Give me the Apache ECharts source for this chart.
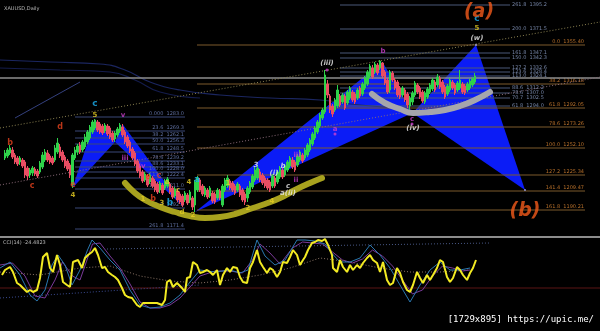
<!DOCTYPE html>
<html><head><meta charset="utf-8">
<script src="https://cdn.jsdelivr.net/npm/echarts@6/dist/echarts.min.js"></script>
<style>html,body{margin:0;padding:0;background:#000;}#c{width:600px;height:331px;}</style>
</head><body><div id="c"></div>
<script>
// ---- price candles [open, close, low, high] (one per bar, index = bar number)
const candles = [
[1242,1247,1240,1250],[1244,1250,1242,1252],[1247,1252,1245,1255],[1250,1243,1241,1253],[1245,1238,1236,1247],[1242,1236,1234,1244],
[1238,1242,1235,1244],[1240,1234,1232,1242],[1238,1225,1222,1240],[1232,1224,1220,1234],[1225,1230,1222,1232],[1227,1232,1224,1234],
[1231,1226,1224,1233],[1229,1224,1222,1231],[1228,1237,1226,1239],[1233,1245,1231,1248],[1240,1248,1238,1251],[1247,1240,1238,1250],
[1244,1238,1236,1246],[1242,1237,1235,1244],[1240,1252,1238,1255],[1248,1257,1246,1262],[1253,1244,1242,1256],[1248,1240,1238,1250],
[1243,1234,1232,1245],[1239,1231,1229,1241],[1235,1225,1222,1237],[1215,1245,1212,1247],[1242,1250,1240,1253],[1248,1254,1245,1256],
[1255,1248,1246,1258],[1250,1258,1248,1260],[1253,1263,1251,1266],[1258,1268,1256,1270],[1262,1273,1260,1275],[1268,1278,1266,1280],
[1272,1280,1270,1281],[1278,1270,1268,1280],[1276,1268,1266,1278],[1274,1267,1265,1276],[1269,1275,1267,1277],[1274,1266,1264,1276],
[1272,1263,1261,1274],[1267,1260,1258,1269],[1261,1267,1258,1269],[1265,1271,1263,1273],[1269,1275,1267,1277],[1273,1265,1263,1276],
[1268,1258,1256,1270],[1263,1254,1252,1265],[1258,1249,1247,1260],[1251,1242,1240,1253],[1247,1236,1234,1249],[1239,1229,1227,1241],
[1234,1224,1222,1236],[1228,1219,1217,1230],[1220,1226,1218,1228],[1224,1215,1213,1226],[1218,1225,1216,1227],[1222,1214,1212,1224],
[1219,1210,1208,1221],[1216,1208,1206,1218],[1210,1217,1207,1219],[1215,1207,1205,1217],[1212,1219,1210,1221],[1214,1221,1212,1223],
[1216,1208,1206,1218],[1212,1203,1201,1214],[1204,1211,1202,1213],[1209,1200,1198,1211],[1206,1198,1196,1208],[1204,1195,1193,1206],
[1200,1207,1198,1209],[1205,1197,1195,1207],[1200,1208,1197,1210],[1202,1193,1190,1204],[1195,1218,1188,1220],[1210,1222,1208,1224],
[1220,1210,1208,1222],[1214,1206,1204,1216],[1205,1212,1203,1214],[1210,1203,1201,1212],[1204,1212,1202,1214],[1207,1199,1197,1209],
[1206,1198,1196,1208],[1202,1210,1200,1212],[1209,1202,1200,1211],[1195,1214,1193,1216],[1210,1220,1208,1222],[1214,1222,1212,1225],
[1219,1212,1210,1221],[1217,1210,1208,1219],[1214,1207,1205,1216],[1210,1216,1208,1218],[1214,1205,1203,1216],[1210,1200,1198,1212],
[1206,1198,1195,1208],[1202,1212,1198,1214],[1208,1217,1206,1219],[1213,1224,1211,1226],[1220,1230,1218,1233],[1222,1232,1220,1235],
[1228,1220,1218,1231],[1225,1217,1215,1227],[1222,1214,1212,1224],[1220,1212,1210,1222],[1218,1210,1208,1220],[1214,1224,1212,1226],
[1222,1214,1212,1224],[1218,1228,1216,1230],[1223,1232,1221,1234],[1230,1223,1221,1232],[1225,1234,1223,1236],[1230,1238,1228,1240],
[1234,1242,1232,1244],[1240,1233,1231,1243],[1238,1230,1228,1240],[1235,1244,1233,1246],[1240,1248,1238,1250],[1245,1239,1237,1247],
[1242,1250,1240,1252],[1245,1255,1243,1257],[1250,1260,1248,1262],[1256,1266,1254,1268],[1262,1272,1260,1274],[1268,1278,1266,1280],
[1274,1285,1272,1287],[1282,1290,1280,1292],[1288,1325,1286,1330],[1316,1305,1302,1320],[1304,1290,1287,1306],[1294,1286,1283,1296],
[1290,1300,1288,1302],[1294,1310,1292,1315],[1304,1295,1293,1306],[1298,1305,1296,1307],[1304,1292,1290,1306],[1297,1308,1295,1310],
[1302,1312,1300,1314],[1308,1300,1298,1310],[1306,1298,1296,1308],[1302,1310,1300,1312],[1312,1304,1302,1314],[1306,1316,1304,1318],
[1312,1322,1310,1324],[1316,1328,1314,1330],[1324,1334,1322,1336],[1332,1323,1321,1335],[1328,1336,1326,1338],[1335,1327,1325,1337],
[1332,1339,1330,1340],[1337,1324,1322,1338],[1328,1317,1315,1330],[1320,1308,1306,1322],[1310,1328,1307,1330],[1327,1320,1318,1329],
[1320,1312,1310,1322],[1318,1305,1303,1320],[1312,1303,1301,1314],[1305,1312,1303,1314],[1310,1300,1298,1312],[1306,1295,1292,1308],
[1294,1302,1288,1304],[1298,1307,1295,1309],[1305,1317,1303,1319],[1315,1308,1306,1317],[1312,1303,1301,1314],[1308,1299,1297,1310],
[1298,1307,1296,1309],[1303,1311,1301,1313],[1308,1315,1306,1317],[1311,1320,1309,1322],[1318,1310,1308,1320],[1315,1323,1313,1326],
[1322,1313,1311,1324],[1318,1308,1306,1320],[1313,1303,1301,1315],[1306,1314,1304,1316],[1310,1320,1308,1322],[1318,1312,1310,1320],
[1315,1307,1305,1317],[1310,1317,1308,1319],[1312,1320,1310,1330],[1316,1308,1306,1318],[1314,1307,1305,1316],[1310,1316,1308,1318],
[1312,1319,1310,1321],[1315,1321,1313,1323],[1318,1324,1316,1327]
];

// ---- harmonic patterns X, A, B, C, D  as [bar, price]
const patternLeft  = [[27,1212],[36,1280],[44,1258],[47,1276],[71,1194]];
const patternRight = [[76,1188],[151,1338],[163,1287],[188.4,1355],[208,1210]];

// ---- hand drawn arcs [bar, price]
const oliveArc = [[48,1217],[52,1207],[56,1200],[62,1193],[68,1188],[74,1184],[80,1182],[86,1183],[92,1186],[98,1191],[104,1196],[110,1202],[116,1210],[122,1217],[126.8,1222]];
const grayArc  = [[146.8,1306],[152,1297],[158,1291],[163.2,1287],[170,1288],[176,1290],[182,1294],[188,1300],[194,1308]];

// ---- moving averages / trend lines [bar, price]
const maSlow = [[-2,1340],[18,1338],[38,1336],[48,1330],[58,1318],[70,1310],[86,1305],[106,1302],[126,1300],[142,1295],[158,1292]];
const maFast = [[-2,1332],[22,1330],[42,1328],[52,1320],[62,1308],[78,1302]];
const channelLine = [[4,1282],[30,1318]];
const trendDotted1 = [[-2,1272],[238,1378]];
const trendDotted2 = [[-2,1215],[238,1323]];
const grayLevel = 1322;

// ---- fibonacci levels
const fibOrangeLevels = [1355,1316,1292,1273,1252,1225,1209,1190];
const fibOrangeText = ['0.0  1355.40','38.2  1316.18','61.8  1292.05','78.6  1273.26','100.0  1252.10','127.2  1225.34','141.4  1209.47','161.8  1190.21'];
const fibOrangeRange = [76.8, 232];
const fibBlueLevels = [1395,1371,1347,1342,1332,1328,1324,1312,1307,1302,1294];
const fibBlueText = ['261.8  1395.2','200.0  1371.5','161.8  1347.1','150.0  1342.3','127.2  1332.6','123.6  1328.4','113.0  1324.1','88.6  1312.2','78.6  1307.0','70.7  1302.5','61.8  1294.0'];
const fibBlueRange = [134, 202];
const fibLeftLevels = [1283,1269,1262,1256,1248,1239,1233,1228,1222,1211,1192,1171];
const fibLeftText = ['0.000  1283.0','23.6  1269.3','38.2  1262.1','50.0  1256.3','61.8  1248.5','78.6  1239.2','88.6  1233.1','100.0  1228.0','113.0  1222.4','127.2  1211.0','161.8  1192.2','261.8  1171.4'];
const fibLeftRange = [28, 72];

// ---- wave labels [bar, price, text]
const redLabels = [[2,1257,'b'],[10.8,1214,'c'],[22,1273,'d'],[27.2,1215,'e'],[57.2,1223,'e'],[59.2,1201,'b'],[61.6,1224,'c']];
const yellowLabels = [[27.2,1205,'4'],[36,1285,'5'],[55.2,1201,'1'],[62.8,1197,'3'],[64.8,1218,'a'],[69.2,1210,'c'],[73.6,1218,'4'],[70.8,1188,'d'],[75.2,1185,'2'],[89.2,1217,'1'],[97.2,1192,'2'],[106.8,1199,'4'],[188.8,1372,'5']];
const cyanLabels = [[36,1296,'c'],[76.8,1220,'a'],[66,1197,'b'],[188.8,1381,'c']];
const pinkLabels = [[47.2,1285,'v'],[48,1242,'iii'],[54.8,1234,'iv'],[116.8,1245,'iii'],[116.4,1220,'ii'],[132,1271,'a'],[151.2,1349,'b'],[162.8,1281,'c']];
const whiteLabels = [[100.4,1235,'3'],[107.6,1227,'(i)'],[111.2,1234,'b'],[113.2,1214,'c'],[113.2,1207,'a(ii)'],[128.8,1337,'(iii)'],[163.2,1272,'(iv)'],[188.8,1362,'(w)']];
const bigLabels = [[189.6,1388,'(a)'],[208,1189,'(b)']];

// ---- oscillator (CCI) [bar, value]
const cciMain = [[-1.2,-35],[0,-10],[2,5],[3.2,-20],[4.8,-75],[6,-85],[7.2,-100],[8.8,-120],[10,-110],[11.2,-120],[12.8,-110],[14,-50],[15.2,55],[16.8,75],[18,0],[19.2,-20],[20.8,65],[22,15],[23.2,-70],[24.8,-85],[26,-95],[27.2,30],[29.2,40],[30.8,0],[32,50],[33.2,65],[34.8,80],[36,100],[37.2,65],[38.8,0],[40,5],[41.2,-20],[42.8,-35],[44,-45],[45.2,-60],[46.8,-100],[48,-135],[49.2,-145],[50.8,-150],[52.8,-185],[54,-195],[55.2,-175],[56.8,-175],[58.8,-175],[60.8,-175],[62.8,-185],[64,-160],[64.8,-70],[66,-60],[67.2,-95],[68.8,-75],[70.8,-100],[72,-120],[72.8,-50],[74,-45],[75.2,30],[76.8,15],[78,-25],[79.2,-20],[80.8,-10],[82,-20],[83.2,-35],[84.8,-10],[86,-85],[87.2,-35],[88.8,0],[90,-20],[91.2,5],[92.8,0],[94,-45],[95.2,-70],[96.8,-75],[98,0],[99.2,30],[100.8,90],[102,30],[103.2,5],[104.8,-25],[106,0],[107.2,-10],[108.8,-45],[110,-20],[111.2,30],[112.8,25],[114,55],[115.2,90],[116.8,65],[118,15],[119.2,40],[120,55],[121.2,90],[122.8,125],[124,130],[125.2,140],[126.8,135],[128,145],[129.2,115],[130.8,65],[131.2,0],[132.8,-20],[134,40],[135.2,5],[136.8,-20],[138,15],[139.2,-10],[140.8,15],[142,0],[143.2,25],[144.8,50],[146,65],[147.2,40],[148.8,25],[150,-20],[151.2,30],[152.8,-60],[154,-85],[155.2,-75],[156.8,0],[158,-25],[159.2,-70],[160.8,-110],[162,-120],[163.2,-85],[164.8,-20],[166,-50],[167.2,-75],[168.8,-35],[170,-60],[171.2,-35],[172.8,0],[174,40],[175.2,30],[176.8,-45],[178,-70],[179.2,-50],[180.8,5],[182,-10],[183.2,-35],[184.8,-60],[186,-25],[187.2,0],[188.4,40]];
const cciBlue = [[-2,0],[2,30],[6,-35],[10,-135],[12.8,-165],[16,-110],[18.8,15],[21.2,65],[24,15],[26.8,-85],[30,-10],[33,90],[34.8,140],[38,100],[42,40],[46,-10],[50,-110],[54,-185],[58,-200],[62,-195],[66,-175],[70,-135],[74,-70],[78,-10],[84,-20],[90,-10],[94,-25],[97.2,-10],[100.8,140],[104,60],[108,15],[112,40],[116.8,140],[120,140],[124,135],[128,120],[131,70],[134,30],[138,30],[142,50],[146,115],[150,65],[154,0],[158,-85],[162,-170],[166,-85],[170,-10],[174,30],[178,-10],[182,-10],[186,0]];
const cciPurple = [[-2,15],[3,25],[8,-40],[12,-140],[16,-150],[20,-60],[23,30],[27,-40],[30,-60],[35,120],[38,125],[42,60],[46,0],[50,-80],[54,-170],[58,-200],[62,-200],[66,-185],[70,-150],[74,-95],[78,-40],[84,-15],[90,-15],[95,-25],[99,40],[102,120],[106,75],[110,20],[115,100],[119,130],[123,125],[127,120],[131,80],[135,40],[139,25],[143,45],[147,90],[151,60],[155,10],[159,-60],[163,-130],[167,-110],[171,-40],[175,10],[179,0],[183,-15],[186,-10]];
const cciSignal = [[-2,-20],[14,-35],[30,0],[42,10],[54,-40],[66,-65],[78,-75],[90,-60],[102,-35],[114,0],[126,50],[138,30],[150,0],[162,-20],[174,-20],[186,-10]];
const cciUpperTrend = [[40.8,95],[194,125]];
const cciLowerTrend = [[-2,-150],[78,-85]];
const cciLevel = -100;

const FONT = 'DejaVu Sans';
const chart = echarts.init(document.getElementById('c'), null, {renderer:'canvas'});

function tri(p, a, b, c) { return [p[a][0],p[a][1],p[b][0],p[b][1],p[c][0],p[c][1]]; }
const triangles = [tri(patternLeft,0,1,2), tri(patternLeft,2,3,4), tri(patternRight,0,1,2), tri(patternRight,2,3,4)];

function lineS(data, color, width, opts) {
  return Object.assign({type:'line', xAxisIndex:0, yAxisIndex:0, data, showSymbol:false, silent:true,
    lineStyle:{color, width}, z:2}, opts||{});
}
function fibSeries(levels, texts, range, lineColor, textColor, mode) {
  return {type:'custom', xAxisIndex:0, yAxisIndex:0, z:2, silent:true,
    data: levels.map(p => [range[0], range[1], p]),
    encode:{x:[0,1], y:2},
    renderItem(params, api) {
      const a = api.coord([api.value(0), api.value(2)]);
      const b = api.coord([api.value(1), api.value(2)]);
      const t = texts[params.dataIndex];
      const txt = mode === 'after'
        ? {type:'text', x:b[0]+2, y:b[1], style:{text:t, fill:textColor, font:'5px '+FONT, align:'left', verticalAlign:'middle'}}
        : {type:'text', x:b[0]-1, y:b[1]-0.5, style:{text:t, fill:textColor, font:'5px '+FONT, align:'right', verticalAlign:'bottom'}};
      return {type:'group', children:[
        {type:'line', shape:{x1:a[0],y1:a[1],x2:b[0],y2:b[1]}, style:{stroke:lineColor, lineWidth:1}},
        txt]};
    }};
}
function labelS(items, color, size, style) {
  return {type:'scatter', xAxisIndex:0, yAxisIndex:0, z:8, silent:true, symbolSize:1,
    itemStyle:{color:'rgba(0,0,0,0)'},
    data: items.map(d => ({name:d[2], value:[d[0], d[1]]})),
    label:{show:true, position:'inside', formatter:'{b}', color, fontSize:size, fontWeight:'bold',
      fontStyle:style||'normal', fontFamily:FONT}};
}
function oscS(data, color, width, type, z) {
  return {type:'line', xAxisIndex:1, yAxisIndex:1, data, showSymbol:false, silent:true,
    lineStyle:{color, width, type:type||'solid'}, z:z||2};
}

const option = {
  backgroundColor:'#000000',
  animation:false,
  grid:[
    {left:0, right:0, top:0, height:232, show:false},
    {left:0, right:0, top:238, height:75, show:false}
  ],
  xAxis:[
    {type:'value', gridIndex:0, min:-2, max:238, show:false},
    {type:'value', gridIndex:1, min:-2, max:238, show:false}
  ],
  yAxis:[
    {type:'value', gridIndex:0, min:1168, max:1400, show:false},
    {type:'value', gridIndex:1, min:-225, max:150, show:false}
  ],
  graphic:[
    {type:'line', shape:{x1:0,y1:237,x2:600,y2:237}, style:{stroke:'#8c8c8c', lineWidth:2}, z:10},
    {type:'text', left:4, top:6, style:{text:'XAUUSD,Daily', fill:'#b8b8b8', font:'5px '+FONT}, z:10},
    {type:'text', left:3, top:240, style:{text:'CCI(14) -24.4823', fill:'#b8b8b8', font:'5px '+FONT}, z:10},
    {type:'text', right:6, top:315, style:{text:'[1729x895] https://upic.me/', fill:'#ffffff', font:'9px DejaVu Sans Mono'}, z:10}
  ],
  series:[
    // background structure
    lineS(maSlow, '#1b2660', 1.2, {smooth:true, z:1}),
    lineS(maFast, '#141c4c', 1.2, {smooth:true, z:1}),
    lineS(channelLine, '#34407e', 1, {z:1}),
    lineS([[-2,grayLevel],[238,grayLevel]], '#8e8e8e', 1.5, {z:2}),
    {type:'custom', xAxisIndex:0, yAxisIndex:0, z:1, silent:true, data:triangles,
      encode:{x:[0,2,4], y:[1,3,5]},
      renderItem(params, api) {
        const pts = [0,2,4].map(k => api.coord([api.value(k), api.value(k+1)]));
        return {type:'polygon', shape:{points:pts}, style:{fill:'#0b1cf6'}};
      }},
    fibSeries(fibLeftLevels, fibLeftText, fibLeftRange, '#3a4878', '#5d6d9d', 'end'),
    fibSeries(fibBlueLevels, fibBlueText, fibBlueRange, '#4a5878', '#7484a6', 'after'),
    fibSeries(fibOrangeLevels, fibOrangeText, fibOrangeRange, '#7c5a2c', '#b8702a', 'end'),
    lineS(trendDotted1, '#8a8050', 1, {z:3, lineStyle:{color:'#8a8050', width:1, type:[1,2]}}),
    lineS(trendDotted2, '#8a6a78', 1, {z:3, lineStyle:{color:'#8a6a78', width:1, type:[1,2]}}),
    {type:'candlestick', xAxisIndex:0, yAxisIndex:0, z:4, silent:true,
      dimensions:['bar','open','close','low','high'],
      encode:{x:'bar', y:['open','close','low','high']},
      data: candles.map((c,i) => [i, c[0], c[1], c[2], c[3]]),
      barWidth:1.6,
      itemStyle:{color:'#2fd24a', color0:'#ea4d63', borderColor:'#2fd24a', borderColor0:'#ea4d63', borderWidth:1}},
    lineS(oliveArc, '#a8a21e', 6, {smooth:true, z:5, lineStyle:{color:'#a8a21e', width:6, cap:'round'}}),
    lineS(grayArc, '#a6a6ac', 6, {smooth:true, z:5, lineStyle:{color:'#a6a6ac', width:6, cap:'round'}}),
    {type:'scatter', xAxisIndex:0, yAxisIndex:0, z:6, silent:true, symbolSize:3,
      itemStyle:{color:'#d040d0'}, data:[[128.8,1330],[132,1266],[162.8,1276]]},
    {type:'scatter', xAxisIndex:0, yAxisIndex:0, z:6, silent:true, symbolSize:2,
      itemStyle:{color:'#b0b8ff'}, data:[patternRight[3], patternRight[4]]},
    labelS(redLabels, '#e8441e', 8),
    labelS(yellowLabels, '#e8cf22', 7),
    labelS(cyanLabels, '#1cb2f2', 9),
    labelS(pinkLabels, '#d040d0', 7),
    labelS(whiteLabels, '#eeeeee', 7, 'italic'),
    labelS(bigLabels, '#f25a1a', 19, 'italic'),
    // oscillator
    oscS([[-2,cciLevel],[238,cciLevel]], '#5a1414', 1, 'solid', 1),
    oscS(cciUpperTrend, '#4a5a88', 1, [1,2], 1),
    oscS(cciLowerTrend, '#3a4a90', 1, [1,2], 1),
    oscS(cciSignal, '#8a7466', 1, [1,2], 2),
    oscS(cciPurple, '#7a3a9a', 1, 'solid', 3),
    oscS(cciBlue, '#2a78b0', 1, 'solid', 3),
    oscS(cciMain, '#f2ea22', 2, 'solid', 4)
  ]
};
chart.setOption(option);
</script>
</body></html>
